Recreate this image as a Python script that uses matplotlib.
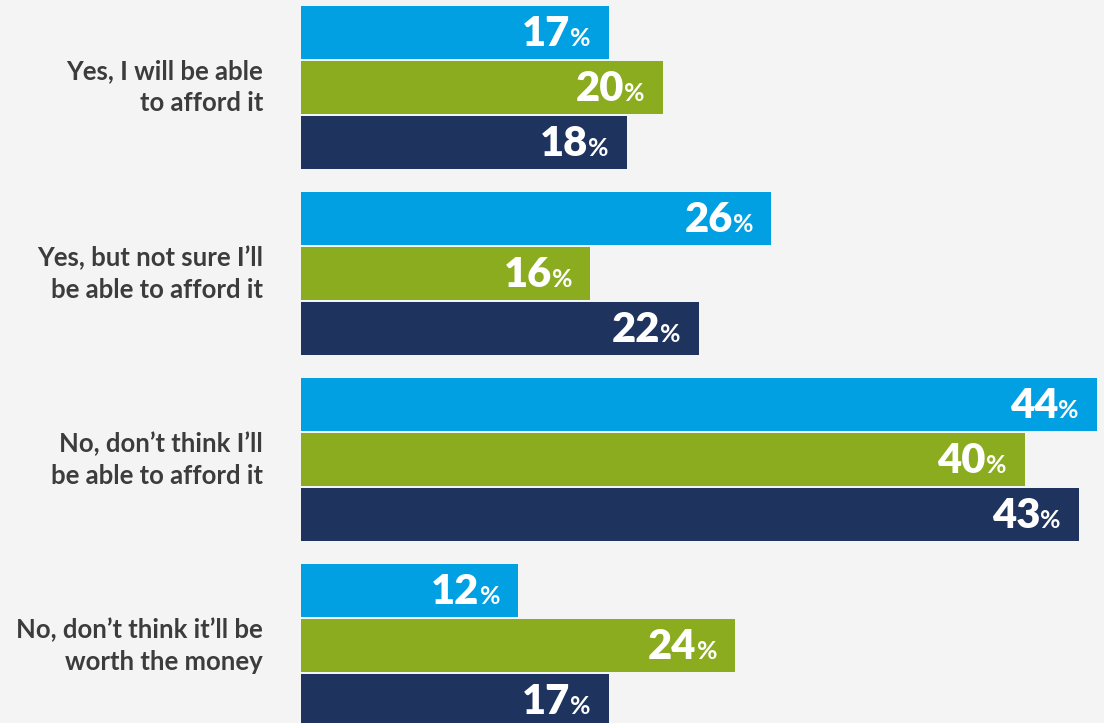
import matplotlib.pyplot as plt
import numpy as np

categories = ['Yes, I will be able\nto afford it',
              'Yes, but not sure I\u2019ll\nbe able to afford it',
              'No, don\u2019t think I\u2019ll\nbe able to afford it',
              'No, don\u2019t think it\u2019ll be\nworth the money']
series_1 = [17, 26, 44, 12]
series_2 = [20, 16, 40, 24]
series_3 = [18, 22, 43, 17]
colors = ['#00a0e3', '#8aac1e', '#1e345f']

plt.rcParams['font.family'] = ['Lato', 'DejaVu Sans']

fig = plt.figure(figsize=(11.04, 7.23), dpi=100)
fig.patch.set_facecolor('#f4f4f4')
ax = fig.add_axes([301 / 1104, 0, 803 / 1104, 1])
ax.set_facecolor('#f4f4f4')

px_per_pct = 18.09
ax.set_xlim(0, 803 / px_per_pct)
ax.set_ylim((723 - 87.5) / 186, -87.5 / 186)

bar_h = 53 / 186
step = 55 / 186
y = np.arange(len(categories))

# measure width of the small % sign once
renderer = fig.canvas.get_renderer()
tmp = fig.text(0, 0, '%', fontsize=18, fontweight='bold')
pct_w = tmp.get_window_extent(renderer).width * 72 / fig.dpi
tmp.remove()

for k, vals in enumerate([series_1, series_2, series_3]):
    ys = y + (k - 1) * step
    ax.barh(ys, vals, height=bar_h, color=colors[k])
    for yy, v in zip(ys, vals):
        ax.annotate('%', (v, yy), xytext=(-13, -10), textcoords='offset points',
                    ha='right', va='baseline', color='white', fontsize=18, fontweight='bold')
        ax.annotate(str(v), (v, yy), xytext=(-13 - pct_w, -10), textcoords='offset points',
                    ha='right', va='baseline', color='white', fontsize=30, fontweight='heavy')

for yy, cat in zip(y, categories):
    ax.text(-38 / px_per_pct, yy, cat, ha='right', va='center', color='#3c3c3c',
            fontsize=18.5, fontweight='bold', linespacing=1.4, clip_on=False)

ax.axis('off')
fig.savefig('out.png', dpi=100, facecolor=fig.get_facecolor())
